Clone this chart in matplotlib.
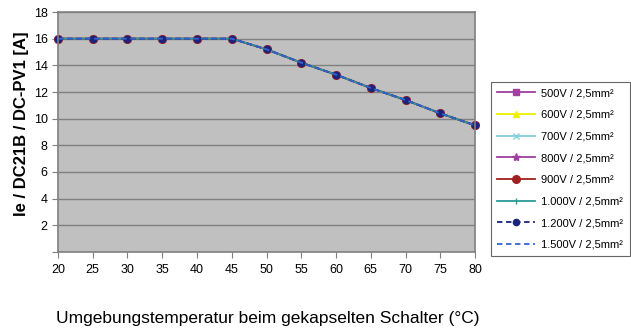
import matplotlib
matplotlib.use("Agg")
import matplotlib.pyplot as plt

plt.rcParams['font.family'] = ['Liberation Sans', 'DejaVu Sans']

temps = [20, 25, 30, 35, 40, 45, 50, 55, 60, 65, 70, 75, 80]
current = [16, 16, 16, 16, 16, 16, 15.2, 14.2, 13.3, 12.3, 11.4, 10.4, 9.5]
series_labels = ["500V / 2,5mm²", "600V / 2,5mm²", "700V / 2,5mm²", "800V / 2,5mm²",
                 "900V / 2,5mm²", "1.000V / 2,5mm²", "1.200V / 2,5mm²", "1.500V / 2,5mm²"]
series_values = [current] * 8
styles = [
    dict(color="#A040A0", marker="s", linestyle="-", markersize=5),
    dict(color="#F0F000", marker="^", linestyle="-", markersize=5),
    dict(color="#80D0E0", marker="x", linestyle="-", markersize=5),
    dict(color="#A040A0", marker="*", linestyle="-", markersize=6),
    dict(color="#A02020", marker="o", linestyle="-", markersize=5.5),
    dict(color="#2A9A9A", marker="|", linestyle="-", markersize=5),
    dict(color="#1A237E", marker="o", linestyle="--", markersize=4.5, dashes=(3, 2)),
    dict(color="#3366CC", marker=None, linestyle="--", dashes=(3, 2)),
]

fig = plt.figure(figsize=(6.31, 3.31), dpi=100)
ax = fig.add_axes([0.0919, 0.2387, 0.6609, 0.725])
ax.set_facecolor("#C0C0C0")
for lab, vals, st in zip(series_labels, series_values, styles):
    ax.plot(temps, vals, label=lab, linewidth=1.3, clip_on=False, **st)

ax.set_xlim(20, 80)
ax.set_ylim(0, 18)
ax.set_xticks(list(range(20, 81, 5)))
ax.set_yticks(list(range(0, 19, 2)))
ax.set_yticklabels([""] + [str(v) for v in range(2, 19, 2)])
ax.yaxis.grid(True, color="#808080", linewidth=1.0)
ax.set_axisbelow(True)
for s in ax.spines.values():
    s.set_color("#808080")
    s.set_linewidth(1.2)
ax.tick_params(axis="both", labelsize=9, length=4, color="#808080", direction="out")
ax.tick_params(axis="x", pad=5)

fig.text(0.034, 0.625, "Ie / DC21B / DC-PV1 [A]", fontsize=12, fontweight="bold",
         rotation=90, ha="center", va="center")

fig.text(0.424, 0.038, "Umgebungstemperatur beim gekapselten Schalter (°C)", fontsize=12.5,
         ha="center", va="center")

leg = fig.legend(loc="upper left", bbox_to_anchor=(0.778, 0.752), fontsize=8,
                 handlelength=3.4, labelspacing=1.05, frameon=True, fancybox=False,
                 borderpad=0.55, borderaxespad=0, handletextpad=0.6)
leg.get_frame().set_edgecolor("#404040")
leg.get_frame().set_linewidth(0.8)

fig.savefig("out.png", dpi=100)
